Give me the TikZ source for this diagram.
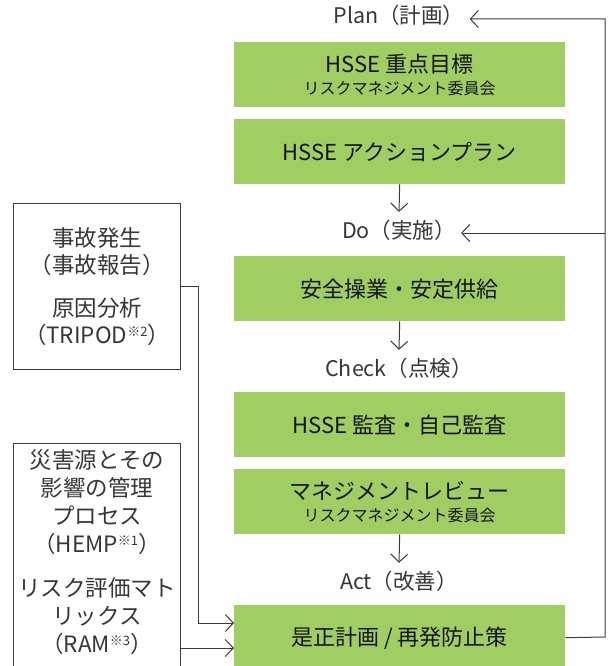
\documentclass[tikz,border=0pt]{standalone}
\usepackage{fontspec}
\setmainfont{Noto Sans CJK JP}
\usetikzlibrary{arrows.meta}
\definecolor{boxgreen}{RGB}{161,206,98}
\definecolor{linec}{RGB}{60,60,60}
\definecolor{txc}{RGB}{20,20,20}
\definecolor{lblc}{RGB}{55,55,55}
\newcommand{\supnote}[1]{{\fontsize{13}{13}\selectfont\raisebox{7pt}{#1}}}
\begin{document}
\begin{tikzpicture}[x=1pt,y=-1pt,
  gbox/.style={fill=boxgreen, draw=none, minimum width=331pt, minimum height=65pt,
    anchor=north west, inner sep=0pt, align=center, text=txc,
    font=\fontsize{22}{25}\selectfont},
  lbl/.style={text=lblc, font=\fontsize{21.5}{24}\selectfont, inner xsep=5pt,
    inner ysep=0pt, text height=15pt, text depth=5pt, minimum height=42pt},
  wbox/.style={draw=linec, line width=1pt, fill=white, anchor=north west,
    inner sep=0pt, align=center, text=lblc, font=\fontsize{22.5}{27.5}\selectfont},
  conn/.style={draw=linec, line width=1pt},
  arr/.style={conn, -{Straight Barb[length=8pt,width=17pt,line width=1pt]}}
]
\clip (0,0) rectangle (608,666);
\fill[white] (0,0) rectangle (608,666);

% PDCA labels
\node[lbl] (plan) at (399,19) {Plan（計画）};
\node[lbl] (do) at (399,233) {Do（実施）};
\node[lbl] (check) at (399,371) {Check（点検）};
\node[lbl] (act) at (399,584) {Act（改善）};

% green boxes
\node[gbox] (b1) at (234,42) {HSSE 重点目標\\[-3pt]{\fontsize{16}{18}\selectfont リスクマネジメント委員会}};
\node[gbox] (b2) at (234,119) {HSSE アクションプラン};
\node[gbox] (b3) at (234,256) {安全操業・安定供給};
\node[gbox] (b4) at (234,392) {HSSE 監査・自己監査};
\node[gbox] (b5) at (234,469) {マネジメントレビュー\\[-3pt]{\fontsize{16}{18}\selectfont リスクマネジメント委員会}};
\node[gbox] (b6) at (234,605) {是正計画 / 再発防止策};

% left boxes
\node[wbox, minimum width=167pt, minimum height=166pt] (l1) at (13,203)
  {事故発生\\（事故報告）\\[15pt]原因分析\\（TRIPOD\supnote{※2}）};
\node[wbox, anchor=north west] (l2) at (13,443)
  {\parbox[c][260pt][t]{167pt}{\centering\fontsize{22.5}{28}\selectfont
   \vspace*{6pt}災害源とその\\影響の管理\\プロセス\\（HEMP\supnote{※1}）\\[16pt]
   リスク評価マト\\リックス\\（RAM\supnote{※3}）}};

% down arrows
\draw[arr] (b2.south) -- (do.north);
\draw[arr] (b3.south) -- (check.north);
\draw[arr] (b5.south) -- (act.north);

% feedback loop
\coordinate (rt) at (605,637);
\draw[arr] (b6.east) -- (rt) |- (plan.east);
\draw[arr] (rt |- do.east) -- (do.east);

% left connectors
\coordinate (lj) at (198,623);
\draw[arr] (l1.east) -| (lj) -- (lj -| b6.west);
\coordinate (l2r) at (180,648);
\draw[arr] (l2r) -- (l2r -| b6.west);
\end{tikzpicture}
\end{document}
